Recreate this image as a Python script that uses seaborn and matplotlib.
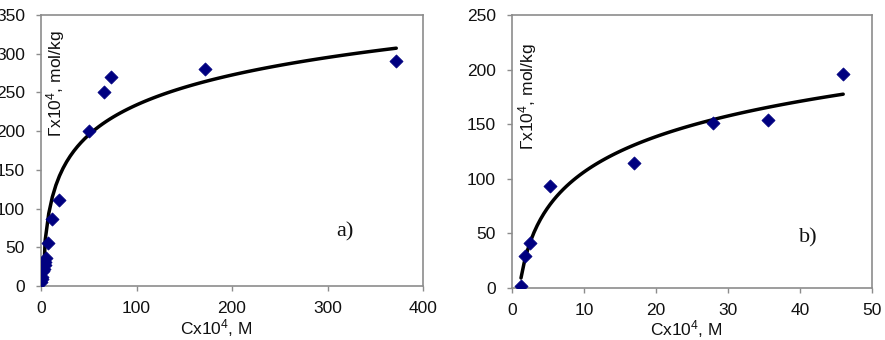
import matplotlib
matplotlib.use("Agg")
import matplotlib.pyplot as plt
import seaborn as sns
import numpy as np
import pandas as pd

# Panel a data
a_x = [0.3, 0.6, 1.2, 1.7, 2.8, 4.5, 5.6, 4.0, 7.0, 11.5, 19.0, 50.0, 65.6, 73.6, 172.0, 372.0]
a_y = [5.0, 9.0, 12.0, 19.0, 22.0, 27.0, 36.0, 31.0, 55.0, 86.0, 111.0, 200.0, 250.0, 270.0, 280.0, 290.0]
# Panel b data
b_x = [1.25, 1.85, 2.45, 5.27, 16.9, 27.9, 35.5, 46.0]
b_y = [2.1, 29.6, 41.2, 93.7, 114.5, 151.0, 153.5, 195.7]

a_xticks = [0, 100, 200, 300, 400]
a_yticks = [0, 50, 100, 150, 200, 250, 300, 350]
b_xticks = [0, 10, 20, 30, 40, 50]
b_yticks = [0, 50, 100, 150, 200, 250]

sns.set_theme(style="white")
plt.rcParams['font.family'] = ['Liberation Sans', 'DejaVu Sans']
plt.rcParams['mathtext.fontset'] = 'custom'
plt.rcParams['mathtext.rm'] = 'Liberation Sans'
plt.rcParams['mathtext.it'] = 'Liberation Sans'
plt.rcParams['mathtext.bf'] = 'Liberation Sans:bold'

fig = plt.figure(figsize=(8.85, 3.4), dpi=100)
ax1 = fig.add_axes([41/885, 54/340, 382/885, 271/340])
ax2 = fig.add_axes([512/885, 52/340, 360/885, 273/340])

gray = '#8c8c8c'
navy = '#000080'

def draw(ax, xs, ys, xticks, yticks, tag, tagpos, ylab_pos, xlab_pos, xmin_fit):
    df = pd.DataFrame({'x': xs, 'y': ys})
    # logarithmic trendline (Excel style) via seaborn regplot
    sns.regplot(data=df[df.x >= xmin_fit], x='x', y='y', logx=True, ci=None, scatter=False,
                line_kws=dict(color='black', lw=2.5), ax=ax, truncate=True)
    sns.scatterplot(data=df, x='x', y='y', marker='D', color=navy, s=45, edgecolor=navy,
                    linewidth=0.5, ax=ax, zorder=3)
    ax.set_xlim(xticks[0], xticks[-1])
    ax.set_ylim(yticks[0], yticks[-1])
    ax.set_xticks(xticks)
    ax.set_yticks(yticks)
    ax.tick_params(axis='both', which='both', direction='out', length=3.6, width=1, color=gray,
                   labelsize=12.5, bottom=True, left=True, labelcolor='#111111')
    ax.tick_params(axis='x', pad=7.5)
    ax.tick_params(axis='y', pad=8)
    for s in ax.spines.values():
        s.set_color(gray)
        s.set_linewidth(1.2)
    ax.set_xlabel('Cx10$^{4}$, M', fontsize=12.5, color='#111111')
    ax.xaxis.set_label_coords(*xlab_pos)
    ax.xaxis.label.set_va('baseline')
    ax.set_ylabel('Γx10$^{4}$, mol/kg', fontsize=12.5, color='#111111')
    ax.yaxis.set_label_coords(*ylab_pos)
    ax.text(tagpos[0], tagpos[1], tag, transform=ax.transAxes, fontsize=16,
            family=['Liberation Serif', 'DejaVu Serif'], ha='center', va='center', color='#111111')

draw(ax1, a_x, a_y, a_xticks, a_yticks, 'a)', ((345-41)/382, (286-232)/271),
     (0.068, 0.745), (0.458, -0.178), 0.5)
draw(ax2, b_x, b_y, b_xticks, b_yticks, 'b)', ((808-512)/360, (288-238)/273),
     (0.075, 0.70), (0.483, -0.174), 0)

fig.savefig('out.png', dpi=100)
